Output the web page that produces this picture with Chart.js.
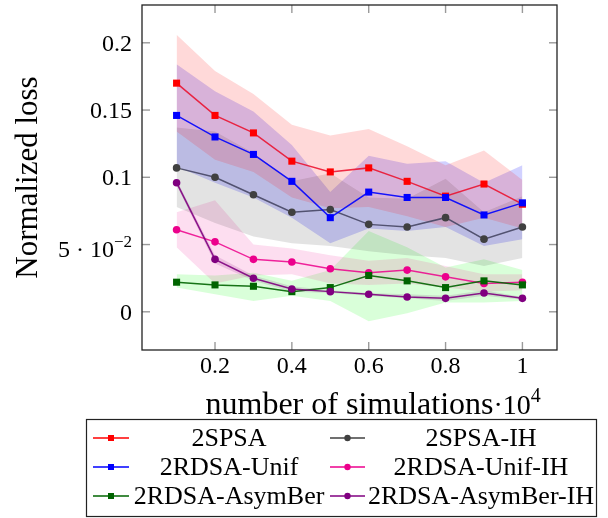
<!DOCTYPE html>
<html>
<head>
<meta charset="utf-8">
<script src="https://cdn.jsdelivr.net/npm/chart.js@4.4.0/dist/chart.umd.min.js"></script>
<style>
  html, body { margin: 0; padding: 0; background: #fff; }
</style>
</head>
<body>
<canvas id="lossChart" width="608" height="518"></canvas>
<script>
// number of simulations (x 10^4)
const simulations = [0.1, 0.2, 0.3, 0.4, 0.5, 0.6, 0.7, 0.8, 0.9, 1.0];

// 2SPSA
const spsaMean  = [0.170, 0.146, 0.133, 0.112, 0.104, 0.107, 0.097, 0.086, 0.095, 0.080];
const spsaUpper = [0.206, 0.179, 0.162, 0.139, 0.131, 0.136, 0.123, 0.109, 0.120, 0.098];
const spsaLower = [0.134, 0.113, 0.104, 0.085, 0.077, 0.078, 0.071, 0.063, 0.070, 0.062];

// 2RDSA-Unif
const unifMean  = [0.146, 0.130, 0.117, 0.097, 0.070, 0.089, 0.085, 0.085, 0.072, 0.081];
const unifUpper = [0.184, 0.164, 0.149, 0.124, 0.089, 0.116, 0.110, 0.112, 0.096, 0.109];
const unifLower = [0.108, 0.096, 0.085, 0.070, 0.051, 0.062, 0.060, 0.063, 0.049, 0.054];

// 2RDSA-AsymBer
const asymMean  = [0.022, 0.020, 0.019, 0.015, 0.018, 0.027, 0.023, 0.018, 0.023, 0.020];
const asymUpper = [0.028, 0.027, 0.029, 0.023, 0.031, 0.060, 0.048, 0.033, 0.039, 0.031];
const asymLower = [0.018, 0.013, 0.008, 0.012, 0.008, -0.007, -0.001, 0.007, 0.007, 0.008];

// 2SPSA-IH
const spsaIhMean  = [0.107, 0.100, 0.087, 0.074, 0.076, 0.065, 0.063, 0.070, 0.054, 0.063];
const spsaIhUpper = [0.137, 0.134, 0.118, 0.097, 0.103, 0.085, 0.084, 0.099, 0.074, 0.086];
const spsaIhLower = [0.078, 0.066, 0.056, 0.051, 0.049, 0.045, 0.042, 0.040, 0.034, 0.040];

// 2RDSA-Unif-IH
const unifIhMean  = [0.061, 0.052, 0.039, 0.037, 0.032, 0.029, 0.031, 0.026, 0.021, 0.022];
const unifIhUpper = [0.074, 0.083, 0.050, 0.047, 0.042, 0.038, 0.040, 0.034, 0.028, 0.028];
const unifIhLower = [0.048, 0.021, 0.027, 0.028, 0.021, 0.020, 0.021, 0.018, 0.015, 0.016];

// 2RDSA-AsymBer-IH
const asymIhMean  = [0.096, 0.039, 0.025, 0.017, 0.015, 0.013, 0.011, 0.010, 0.014, 0.010];
const asymIhUpper = [0.098, 0.042, 0.027, 0.019, 0.016, 0.014, 0.013, 0.012, 0.016, 0.011];
const asymIhLower = [0.094, 0.036, 0.023, 0.015, 0.014, 0.012, 0.010, 0.008, 0.012, 0.009];

// ticks
const xTickValues = [0.2, 0.4, 0.6, 0.8, 1];
const xTickLabels = ['0.2', '0.4', '0.6', '0.8', '1'];
const yTickValues = [0, 0.05, 0.1, 0.15, 0.2];
const yTickLabels = ['0', '5 \u00b7 10^\u22122', '0.1', '0.15', '0.2'];

const FONT = '"Liberation Serif", "Times New Roman", serif';

// legend order = drawing order (later on top)
const series = [
    { label: '2SPSA',            mean: spsaMean,   upper: spsaUpper,   lower: spsaLower,   color: 'rgb(255,0,0)',   line: 'rgba(235,10,40,0.85)',  band: 'rgba(255,0,0,0.15)',    marker: 'rect' },
    { label: '2SPSA-IH',         mean: spsaIhMean, upper: spsaIhUpper, lower: spsaIhLower, color: 'rgb(64,64,64)',  line: 'rgba(70,70,100,0.9)',   band: 'rgba(0,0,0,0.11)',      marker: 'circle' },
    { label: '2RDSA-Unif',       mean: unifMean,   upper: unifUpper,   lower: unifLower,   color: 'rgb(0,0,255)',   line: 'rgba(0,0,255,0.9)',     band: 'rgba(0,0,255,0.18)',    marker: 'rect' },
    { label: '2RDSA-Unif-IH',    mean: unifIhMean, upper: unifIhUpper, lower: unifIhLower, color: 'rgb(236,0,140)', line: 'rgba(236,0,140,0.85)',  band: 'rgba(236,0,140,0.13)',  marker: 'circle' },
    { label: '2RDSA-AsymBer',    mean: asymMean,   upper: asymUpper,   lower: asymLower,   color: 'rgb(0,100,0)',   line: 'rgba(0,100,0,0.9)',     band: 'rgba(0,255,0,0.15)',    marker: 'rect' },
    { label: '2RDSA-AsymBer-IH', mean: asymIhMean, upper: asymIhUpper, lower: asymIhLower, color: 'rgb(128,0,128)', line: 'rgba(128,0,128,0.9)',   band: 'rgba(128,0,128,0.15)',  marker: 'circle' }
];

function points(arr) {
    return simulations.map((x, i) => ({ x: x, y: arr[i] }));
}

const datasets = [];
// bands first (upper fills down to the following lower dataset)
series.forEach(s => {
    datasets.push({
        label: s.label + ' upper', data: points(s.upper), isBand: true,
        borderWidth: 0, borderColor: 'transparent', pointRadius: 0,
        backgroundColor: s.band, fill: '+1', order: 100
    });
    datasets.push({
        label: s.label + ' lower', data: points(s.lower), isBand: true,
        borderWidth: 0, borderColor: 'transparent', pointRadius: 0,
        fill: false, order: 100
    });
});
// mean curves
series.forEach((s, k) => {
    datasets.push({
        label: s.label, data: points(s.mean), marker: s.marker, baseColor: s.color,
        borderColor: s.line, borderWidth: 1.5,
        pointStyle: s.marker, pointRadius: s.marker === 'rect' ? 5 : 3.8,
        pointBackgroundColor: s.color, pointBorderColor: s.color, pointBorderWidth: 0,
        fill: false, order: 10 - k
    });
});

function line(ctx, x1, y1, x2, y2) {
    ctx.beginPath();
    ctx.moveTo(x1, y1);
    ctx.lineTo(x2, y2);
    ctx.stroke();
}

// draw text with an optional ^superscript part
function drawSup(ctx, text, x, y, align, size, supSize, rise) {
    const parts = text.split('^');
    ctx.font = size + 'px ' + FONT;
    const w1 = ctx.measureText(parts[0]).width;
    let w2 = 0;
    if (parts[1]) {
        ctx.font = supSize + 'px ' + FONT;
        w2 = ctx.measureText(parts[1]).width;
    }
    let start = x;
    if (align === 'right') start = x - w1 - w2;
    if (align === 'center') start = x - (w1 + w2) / 2;
    ctx.textAlign = 'left';
    ctx.textBaseline = 'alphabetic';
    ctx.font = size + 'px ' + FONT;
    ctx.fillText(parts[0], start, y);
    if (parts[1]) {
        ctx.font = supSize + 'px ' + FONT;
        ctx.fillText(parts[1], start + w1, y - rise);
    }
}

const paperPlugin = {
    id: 'paper',
    afterDraw(chart) {
        const ctx = chart.ctx;
        const a = chart.chartArea;
        const xs = chart.scales.x;
        const ys = chart.scales.y;
        ctx.save();

        // inner ticks on all four sides
        ctx.strokeStyle = '#9a9a9a';
        ctx.lineWidth = 1.4;
        xTickValues.forEach(v => {
            const px = xs.getPixelForValue(v);
            line(ctx, px, a.bottom, px, a.bottom - 8);
            line(ctx, px, a.top, px, a.top + 8);
        });
        yTickValues.forEach(v => {
            const py = ys.getPixelForValue(v);
            line(ctx, a.left, py, a.left + 8, py);
            line(ctx, a.right, py, a.right - 8, py);
        });

        // frame
        ctx.strokeStyle = '#222';
        ctx.lineWidth = 1.3;
        ctx.strokeRect(a.left, a.top, a.right - a.left, a.bottom - a.top);

        // tick labels
        ctx.fillStyle = '#000';
        xTickValues.forEach((v, i) => {
            drawSup(ctx, xTickLabels[i], xs.getPixelForValue(v), a.bottom + 23, 'center', 24, 17, 10);
        });
        yTickValues.forEach((v, i) => {
            const py = ys.getPixelForValue(v);
            const lab = yTickLabels[i];
            if (lab.indexOf('^') >= 0) {
                drawSup(ctx, lab, a.left - 10, py + 12, 'right', 24, 17, 10);
            } else {
                drawSup(ctx, lab, a.left - 10, py + 8, 'right', 24, 17, 10);
            }
        });

        // axis titles
        ctx.font = '32px ' + FONT;
        const xTitle = 'number of simulations';
        const tw = ctx.measureText(xTitle).width;
        const cx = (a.left + a.right) / 2;
        ctx.textAlign = 'left';
        ctx.fillText(xTitle, cx - tw / 2, 414);
        drawSup(ctx, '\u00b710^4', cx + tw / 2, 414, 'left', 28, 20, 12);

        ctx.save();
        ctx.translate(37, (a.top + a.bottom) / 2);
        ctx.rotate(-Math.PI / 2);
        ctx.font = '31px ' + FONT;
        ctx.textAlign = 'center';
        ctx.textBaseline = 'alphabetic';
        ctx.fillText('Normalized loss', 0, 0);
        ctx.restore();

        // legend
        ctx.strokeStyle = '#222';
        ctx.lineWidth = 1.2;
        ctx.strokeRect(86.5, 419.5, 510, 97);
        const means = chart.data.datasets.filter(d => !d.isBand);
        const cols = [
            { s0: 93, s1: 129, tx: 229 },
            { s0: 330, s1: 365, tx: 481 }
        ];
        const rows = [438, 467, 496];
        means.forEach((d, k) => {
            const c = cols[k % 2];
            const y = rows[Math.floor(k / 2)];
            ctx.strokeStyle = d.baseColor;
            ctx.lineWidth = 1.3;
            line(ctx, c.s0, y, c.s1, y);
            ctx.fillStyle = d.baseColor;
            const mx = (c.s0 + c.s1) / 2;
            if (d.marker === 'rect') {
                ctx.fillRect(mx - 3, y - 3, 6, 6);
            } else {
                ctx.beginPath();
                ctx.arc(mx, y, 3.2, 0, Math.PI * 2);
                ctx.fill();
            }
            ctx.fillStyle = '#000';
            ctx.font = '26px ' + FONT;
            ctx.textAlign = 'center';
            ctx.textBaseline = 'alphabetic';
            ctx.fillText(d.label, c.tx, y + 8);
        });

        ctx.restore();
    }
};

new Chart(document.getElementById('lossChart').getContext('2d'), {
    type: 'line',
    data: { datasets: datasets },
    options: {
        responsive: false,
        animation: false,
        devicePixelRatio: 1,
        layout: { padding: { left: 142, right: 51, top: 5, bottom: 168 } },
        elements: { line: { tension: 0 } },
        scales: {
            x: {
                type: 'linear', min: 0.01, max: 1.09,
                grid: { display: false },
                border: { display: false },
                ticks: { display: false },
                afterFit: s => { s.height = 0; }
            },
            y: {
                type: 'linear', min: -0.0284, max: 0.2281,
                grid: { display: false },
                border: { display: false },
                ticks: { display: false },
                afterFit: s => { s.width = 0; }
            }
        },
        plugins: {
            legend: { display: false },
            tooltip: { enabled: false },
            filler: { drawTime: 'beforeDatasetsDraw' }
        }
    },
    plugins: [paperPlugin]
});
</script>
</body>
</html>
